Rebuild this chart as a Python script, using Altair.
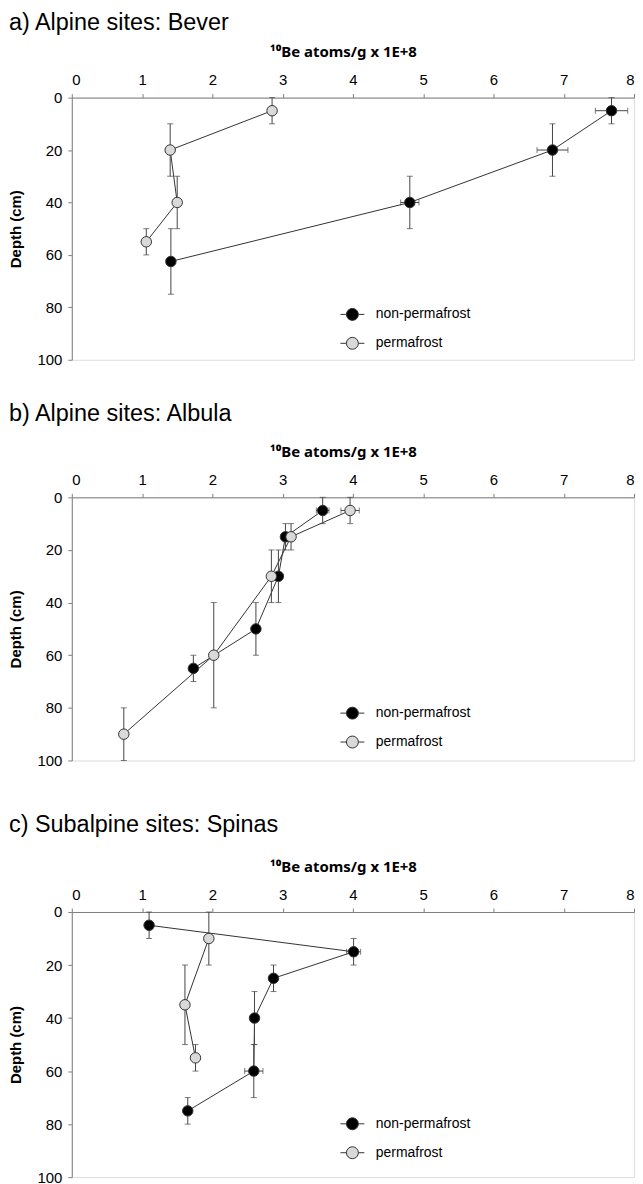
import altair as alt
import pandas as pd

FONT = "Liberation Sans"
SERIES = ["non-permafrost", "permafrost"]
TITLES = ["a) Alpine sites: Bever", "b) Alpine sites: Albula", "c) Subalpine sites: Spinas"]
X_TITLE = "¹⁰Be atoms/g x 1E+8"
Y_TITLE = "Depth (cm)"
X_TICKS = [0, 1, 2, 3, 4, 5, 6, 7, 8]
Y_TICKS = [0, 20, 40, 60, 80, 100]

# ---- a) Bever ----
A_NP_DEPTH = [5, 20, 40, 62.5]
A_NP_BE = [7.68, 6.84, 4.81, 1.41]
A_NP_DLO = [0, 10, 30, 50]
A_NP_DHI = [10, 30, 50, 75]
A_NP_XERR = [0.23, 0.22, 0.13, 0.03]

A_PF_DEPTH = [5, 20, 40, 55]
A_PF_BE = [2.85, 1.40, 1.50, 1.06]
A_PF_DLO = [0, 10, 30, 50]
A_PF_DHI = [10, 30, 50, 60]
A_PF_XERR = [0.04, 0.03, 0.03, 0.03]

# ---- b) Albula ----
B_NP_DEPTH = [5, 15, 30, 50, 65]
B_NP_BE = [3.57, 3.04, 2.94, 2.62, 1.73]
B_NP_DLO = [0, 10, 20, 40, 60]
B_NP_DHI = [10, 20, 40, 60, 70]
B_NP_XERR = [0.09, 0.04, 0.04, 0.03, 0.03]

B_PF_DEPTH = [5, 15, 30, 60, 90]
B_PF_BE = [3.96, 3.12, 2.84, 2.02, 0.74]
B_PF_DLO = [0, 10, 20, 40, 80]
B_PF_DHI = [10, 20, 40, 80, 100]
B_PF_XERR = [0.13, 0.05, 0.04, 0.03, 0.03]

# ---- c) Spinas ----
C_NP_DEPTH = [5, 15, 25, 40, 60, 75]
C_NP_BE = [1.10, 4.01, 2.87, 2.60, 2.59, 1.65]
C_NP_DLO = [0, 10, 20, 30, 50, 70]
C_NP_DHI = [10, 20, 30, 50, 70, 80]
C_NP_XERR = [0.03, 0.10, 0.06, 0.03, 0.13, 0.03]

C_PF_DEPTH = [10, 35, 55]
C_PF_BE = [1.95, 1.61, 1.76]
C_PF_DLO = [0, 20, 50]
C_PF_DHI = [20, 50, 60]
C_PF_XERR = [0.03, 0.03, 0.03]


def frame(np_d, pf_d):
    rows = []
    for name, (dep, be, dlo, dhi, xe) in zip(SERIES, [np_d, pf_d]):
        for i in range(len(dep)):
            rows.append({
                "series": name, "depth": dep[i], "be": be[i],
                "dlo": dlo[i], "dhi": dhi[i],
                "xlo": be[i] - xe[i], "xhi": be[i] + xe[i],
            })
    return pd.DataFrame(rows)


AXIS_COMMON = dict(
    grid=False, domainColor="#7f7f7f", tickColor="#7f7f7f", tickSize=4,
    labelFont=FONT, labelFontSize=15, labelColor="#000000", format="d",
    titleFontWeight="bold", titleColor="#000000",
)

LEGEND_SYMBOL = "M-1,0L-0.5,0M0.5,0L1,0M0.5,0A0.5,0.5,0,1,1,-0.5,0A0.5,0.5,0,1,1,0.5,0Z"


def panel(title, df, height, title_offset, legend_y):
    xs = alt.Scale(domain=[0, 8], nice=False, zero=True)
    ys = alt.Scale(domain=[0, 100], reverse=True, nice=False)
    xax = alt.Axis(orient="top", values=X_TICKS, title=X_TITLE, titleFontSize=15,
                   titleFont="Noto Sans", titleX=272, titleAlign="center",
                   labelPadding=6, titlePadding=13, **AXIS_COMMON)
    yax = alt.Axis(orient="left", values=Y_TICKS, title=Y_TITLE, titleFontSize=15,
                   titleFont=FONT, labelPadding=6, titlePadding=13, **AXIS_COMMON)
    base = alt.Chart(df)
    x = alt.X("be:Q", scale=xs, axis=xax)
    y = alt.Y("depth:Q", scale=ys, axis=yax)

    line = base.mark_line(color="#333333", strokeWidth=1).encode(
        x=x, y=y, detail="series:N", order="depth:Q")
    yerr = base.mark_rule(color="#444444", strokeWidth=1).encode(
        x="be:Q", y="dlo:Q", y2="dhi:Q")
    ycap_lo = base.mark_tick(orient="horizontal", size=6, thickness=1, color="#444444").encode(
        x="be:Q", y="dlo:Q")
    ycap_hi = base.mark_tick(orient="horizontal", size=6, thickness=1, color="#444444").encode(
        x="be:Q", y="dhi:Q")
    xerr = base.mark_rule(color="#444444", strokeWidth=1).encode(
        x="xlo:Q", x2="xhi:Q", y="depth:Q")
    xcap_lo = base.mark_tick(orient="vertical", size=6, thickness=1, color="#444444").encode(
        x="xlo:Q", y="depth:Q")
    xcap_hi = base.mark_tick(orient="vertical", size=6, thickness=1, color="#444444").encode(
        x="xhi:Q", y="depth:Q")
    pts = base.mark_circle(size=110, stroke="#333333", strokeWidth=1, opacity=1).encode(
        x="be:Q", y="depth:Q",
        fill=alt.Fill("series:N",
                      scale=alt.Scale(domain=SERIES, range=["#000000", "#d9d9d9"]),
                      legend=alt.Legend(
                          title=None, orient="none", legendX=269, legendY=legend_y,
                          symbolType=LEGEND_SYMBOL, symbolSize=576,
                          symbolStrokeColor="#333333", symbolStrokeWidth=1,
                          labelFont=FONT, labelFontSize=14, labelColor="#000000",
                          labelOffset=11, rowPadding=8, padding=0)))
    return alt.layer(line, yerr, ycap_lo, ycap_hi, xerr, xcap_lo, xcap_hi, pts).properties(
        width=564, height=height,
        title=alt.TitleParams(title, anchor="start", frame="bounds", font=FONT,
                              fontSize=23.5, fontWeight="normal", color="#000000",
                              offset=title_offset),
    ).resolve_scale(fill="independent").resolve_legend(fill="independent")


pa = panel(TITLES[0], frame((A_NP_DEPTH, A_NP_BE, A_NP_DLO, A_NP_DHI, A_NP_XERR),
                            (A_PF_DEPTH, A_PF_BE, A_PF_DLO, A_PF_DHI, A_PF_XERR)), 263, 10, 205)
pb = panel(TITLES[1], frame((B_NP_DEPTH, B_NP_BE, B_NP_DLO, B_NP_DHI, B_NP_XERR),
                            (B_PF_DEPTH, B_PF_BE, B_PF_DLO, B_PF_DHI, B_PF_XERR)), 264, 19, 204)
pc = panel(TITLES[2], frame((C_NP_DEPTH, C_NP_BE, C_NP_DLO, C_NP_DHI, C_NP_XERR),
                            (C_PF_DEPTH, C_PF_BE, C_PF_DLO, C_PF_DHI, C_PF_XERR)), 266, 23, 200)

lower = alt.vconcat(pb, pc, spacing=43).resolve_scale(fill="independent").resolve_legend(fill="independent")
chart = alt.vconcat(pa, lower, spacing=33).resolve_scale(
    fill="independent").resolve_legend(fill="independent").properties(
    padding={"top": 1, "left": 0, "right": 0, "bottom": 0}
).configure_view(stroke=None).configure(background="white")

chart.save("out.html", embed_options={"renderer": "svg", "actions": False})
